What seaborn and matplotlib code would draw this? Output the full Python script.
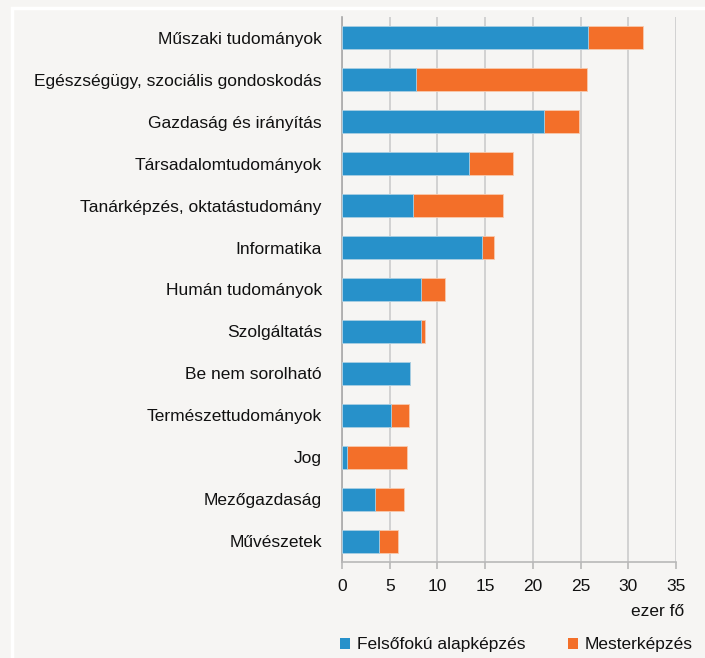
import matplotlib
matplotlib.use("Agg")
import matplotlib.pyplot as plt
import seaborn as sns
import pandas as pd
from matplotlib.patches import Rectangle, Patch

categories = [
    "Műszaki tudományok",
    "Egészségügy, szociális gondoskodás",
    "Gazdaság és irányítás",
    "Társadalomtudományok",
    "Tanárképzés, oktatástudomány",
    "Informatika",
    "Humán tudományok",
    "Szolgáltatás",
    "Be nem sorolható",
    "Természettudományok",
    "Jog",
    "Mezőgazdaság",
    "Művészetek",
]
alapkepzes = [25.8, 7.8, 21.2, 13.3, 7.4, 14.7, 8.3, 8.3, 7.1, 5.1, 0.5, 3.5, 3.9]
mesterkepzes = [5.7, 17.9, 3.6, 4.6, 9.5, 1.2, 2.5, 0.4, 0.0, 1.9, 6.3, 3.0, 2.0]
xticks = [0, 5, 10, 15, 20, 25, 30, 35]
series_names = ["Felsőfokú alapképzés", "Mesterképzés"]
unit_label = "ezer fő"

BLUE = "#2791ca"
ORANGE = "#f36f29"
BG = "#f6f5f3"
FS = 12.5

df = pd.DataFrame({"cat": categories, "alap": alapkepzes, "mester": mesterkepzes})
df["total"] = df["alap"] + df["mester"]

sns.set_theme(style="white")
plt.rcParams["font.family"] = ["Liberation Sans", "DejaVu Sans"]

W, H = 705, 658
fig = plt.figure(figsize=(W / 100, H / 100), dpi=100)
fig.patch.set_facecolor(BG)
fig.patches.append(Rectangle((12 / W, -0.1), 1.2, 1 - 8 / H + 0.1, transform=fig.transFigure,
                             fill=False, edgecolor="white", linewidth=2.5, zorder=0))

ax = fig.add_axes([342 / W, 1 - 562 / H, (676 - 342) / W, (562 - 17) / H])
ax.set_facecolor(BG)

sns.barplot(data=df, x="total", y="cat", color=ORANGE, width=0.55, ax=ax,
            edgecolor="#f8c9ad", linewidth=0.6, saturation=1, zorder=3)
sns.barplot(data=df, x="alap", y="cat", color=BLUE, width=0.55, ax=ax,
            edgecolor="#a9d3ea", linewidth=0.6, saturation=1, zorder=4)

ax.set_xlim(0, 35)
ax.set_ylim(len(categories) - 0.5, -0.5)
ax.set_xticks(xticks)
ax.set_xticklabels([str(t) for t in xticks])
ax.set_xlabel("")
ax.set_ylabel("")

ax.grid(axis="x", color="#cfcfcf", linewidth=1.3, zorder=0)
ax.set_axisbelow(True)
for s in ["top", "right"]:
    ax.spines[s].set_visible(False)
ax.spines["left"].set_color("#a8a8a8")
ax.spines["left"].set_linewidth(1.2)
ax.spines["bottom"].set_color("#b8b8b8")
ax.spines["bottom"].set_linewidth(1.2)

ax.tick_params(axis="x", bottom=True, length=5, width=1.2, color="#b8b8b8",
               labelsize=FS, pad=7, labelcolor="#111111")
ax.tick_params(axis="y", left=False, labelsize=FS, pad=8.5, labelcolor="#111111")

fig.text(684 / W, 1 - 611 / H, unit_label, ha="right", va="center", fontsize=FS, color="#111111")

handles = [Patch(facecolor=BLUE, edgecolor="none"), Patch(facecolor=ORANGE, edgecolor="none")]
leg = fig.legend(handles, series_names, loc="center left", bbox_to_anchor=(340 / W, 1 - 645 / H),
                 ncol=2, frameon=False, fontsize=FS, handlelength=0.6, handleheight=0.6,
                 handletextpad=0.4, columnspacing=2.4, borderaxespad=0, borderpad=0)
for t in leg.get_texts():
    t.set_color("#111111")

fig.savefig("out.png", dpi=100, facecolor=BG)
